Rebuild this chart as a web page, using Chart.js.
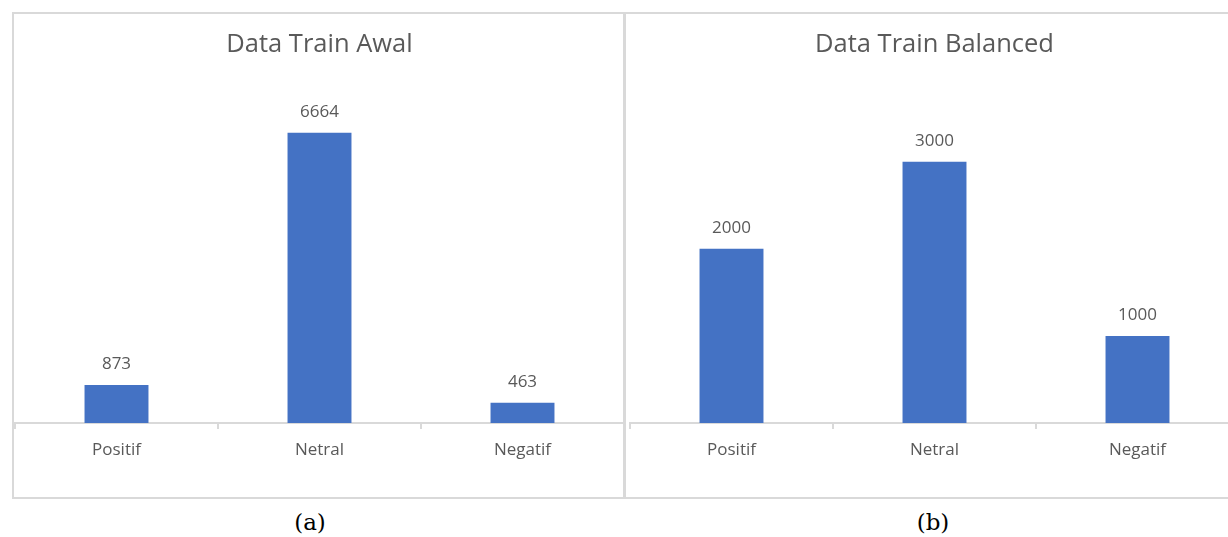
<!DOCTYPE html>
<html>
<head>
<meta charset="utf-8">
<script src="https://cdn.jsdelivr.net/npm/chart.js@4.4.1/dist/chart.umd.min.js"></script>
<style>
  body { margin: 0; background: #fff; overflow: hidden; width: 1228px; height: 537px; position: relative; }
  canvas { position: absolute; top: 0; }
  #chartAwal { left: 0; }
  #chartBalanced { left: 625px; }
  .panel { position: absolute; box-sizing: border-box; border: 2px solid #d9d9d9; pointer-events: none; }
  .caption { position: absolute; top: 509px; font-family: 'DejaVu Serif', serif; font-size: 23px; color: #000; width: 80px; text-align: center; }
</style>
</head>
<body>
<canvas id="chartAwal" width="625" height="500"></canvas>
<canvas id="chartBalanced" width="620" height="500"></canvas>
<div class="panel" style="left:12px; top:12px; width:613px; height:487px;"></div>
<div class="panel" style="left:624px; top:12px; width:620px; height:487px;"></div>
<div class="caption" style="left:270px;">(a)</div>
<div class="caption" style="left:893px;">(b)</div>
<script>
// datos de las dos gráficas
const categories = ['Positif', 'Netral', 'Negatif'];
const awalValues = [873, 6664, 463];
const balancedValues = [2000, 3000, 1000];

const grey = '#595959';
const fontFamily = "'Open Sans', 'Noto Sans', sans-serif";

// etiquetas encima de cada barra
const valueLabels = {
    id: 'valueLabels',
    afterDatasetsDraw: function (chart) {
        var ctx = chart.ctx;
        ctx.save();
        ctx.font = '17px ' + fontFamily;
        ctx.fillStyle = grey;
        ctx.textAlign = 'center';
        ctx.textBaseline = 'middle';
        chart.getDatasetMeta(0).data.forEach(function (bar, i) {
            ctx.fillText(chart.data.datasets[0].data[i], bar.x, bar.y - 21);
        });
        ctx.restore();
    }
};

function makeChart(id, title, values, yMax, padRight) {
    return new Chart(document.getElementById(id), {
        type: 'bar',
        data: {
            labels: categories,
            datasets: [{
                data: values,
                backgroundColor: '#4472C4',
                categoryPercentage: 1,
                barPercentage: 0.315
            }]
        },
        options: {
            responsive: false,
            animation: false,
            events: [],
            layout: { padding: { left: id === 'chartAwal' ? 15 : 5, right: padRight, top: 0, bottom: 0 } },
            plugins: {
                legend: { display: false },
                tooltip: { enabled: false },
                title: {
                    display: true,
                    text: title,
                    color: grey,
                    font: { family: fontFamily, size: 25.5, weight: 'normal' },
                    padding: { top: 29, bottom: 15 }
                }
            },
            scales: {
                x: {
                    offset: true,
                    grid: { display: true, drawOnChartArea: false, drawTicks: true, tickLength: 6, color: '#d9d9d9', lineWidth: 2 },
                    border: { display: true, color: '#d9d9d9', width: 2 },
                    ticks: { color: grey, font: { family: fontFamily, size: 17 }, padding: 11, maxRotation: 0 },
                    afterFit: function (scale) { scale.height = 77; }
                },
                y: {
                    display: false,
                    min: 0,
                    max: yMax
                }
            }
        },
        plugins: [valueLabels]
    });
}

makeChart('chartAwal', 'Data Train Awal', awalValues, 8000, 1);
makeChart('chartBalanced', 'Data Train Balanced', balancedValues, 4000, 6);
</script>
</body>
</html>
